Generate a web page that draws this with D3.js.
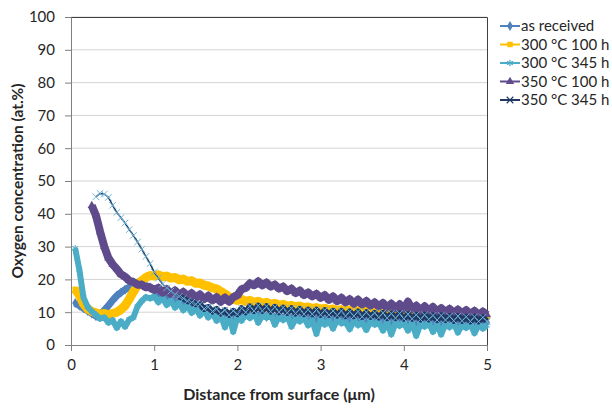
<!DOCTYPE html>
<html>
<head>
<meta charset="utf-8">
<script src="https://cdn.jsdelivr.net/npm/d3@7"></script>
<style>
  body { margin: 0; background: #fff; }
  text { font-family: Lato, "Open Sans", sans-serif; fill: #262626; }
</style>
</head>
<body>
<div id="chart"></div>
<script>
// *********************************************
// DATA
// *********************************************

// distance from surface, um
var distance = [
  0.05, 0.10, 0.15, 0.20, 0.25, 0.30, 0.35, 0.40, 0.45, 0.50,
  0.55, 0.60, 0.65, 0.70, 0.75, 0.80, 0.85, 0.90, 0.95, 1.00,
  1.05, 1.10, 1.15, 1.20, 1.25, 1.30, 1.35, 1.40, 1.45, 1.50,
  1.55, 1.60, 1.65, 1.70, 1.75, 1.80, 1.85, 1.90, 1.95, 2.00,
  2.05, 2.10, 2.15, 2.20, 2.25, 2.30, 2.35, 2.40, 2.45, 2.50,
  2.55, 2.60, 2.65, 2.70, 2.75, 2.80, 2.85, 2.90, 2.95, 3.00,
  3.05, 3.10, 3.15, 3.20, 3.25, 3.30, 3.35, 3.40, 3.45, 3.50,
  3.55, 3.60, 3.65, 3.70, 3.75, 3.80, 3.85, 3.90, 3.95, 4.00,
  4.05, 4.10, 4.15, 4.20, 4.25, 4.30, 4.35, 4.40, 4.45, 4.50,
  4.55, 4.60, 4.65, 4.70, 4.75, 4.80, 4.85, 4.90, 4.95, 5.00
];

// oxygen concentration, at.%
var asReceived = [
  12.8, 12.0, 11.2, 10.4, 9.6, 8.8, 9.4, 10.6, 12.0, 13.6,
  15.0, 16.0, 16.9, 17.6, 18.4, 18.9, 18.6, 18.2, 17.4, 16.8,
  15.9, 15.4, 14.6, 14.1, 13.4, 13.0, 12.2, 12.0, 11.3, 11.1,
  10.6, 10.4, 9.8, 9.7, 9.1, 9.2, 8.6, 8.4, 8.0, 8.3,
  8.6, 9.1, 8.8, 9.3, 8.9, 9.2, 8.6, 8.9, 8.4, 8.8,
  8.3, 8.6, 8.1, 8.5, 8.0, 8.4, 7.9, 8.3, 7.8, 8.2,
  7.7, 8.1, 7.6, 8.0, 7.5, 7.9, 7.4, 7.8, 7.3, 7.8,
  7.2, 7.7, 7.3, 7.6, 7.1, 7.6, 7.0, 7.5, 7.1, 7.4,
  6.9, 7.4, 7.0, 7.3, 6.8, 7.3, 6.9, 7.2, 6.8, 7.2,
  6.7, 7.1, 6.8, 7.1, 6.6, 7.0, 6.7, 7.0, 6.6, 6.9
];

var t300h100 = [
  17.0, 15.2, 12.6, 11.0, 10.2, 9.8, 9.4, 9.6, 9.2, 9.6,
  10.0, 10.8, 12.0, 14.0, 16.2, 18.2, 19.6, 20.6, 21.2, 21.0,
  21.4, 20.8, 21.0, 20.4, 20.6, 19.9, 20.1, 19.4, 19.6, 18.8,
  18.9, 18.2, 18.0, 17.4, 17.1, 16.3, 15.6, 14.6, 14.0, 13.6,
  13.9, 13.3, 13.6, 13.0, 13.3, 12.7, 13.0, 12.4, 12.7, 12.1,
  12.4, 11.8, 12.1, 11.6, 11.9, 11.3, 11.6, 11.1, 11.4, 10.9,
  11.2, 10.7, 11.0, 10.5, 10.8, 10.3, 10.7, 10.2, 10.5, 10.0,
  10.3, 9.8, 10.1, 9.7, 10.0, 9.5, 9.8, 9.4, 9.7, 9.3,
  9.6, 9.2, 9.5, 9.1, 9.4, 9.0, 9.3, 8.9, 9.2, 8.8,
  9.1, 8.7, 9.0, 8.6, 8.9, 8.5, 8.8, 8.5, 8.7, 8.4
];

var t300h345 = [
  29.5, 23.0, 14.5, 11.6, 10.2, 9.2, 8.0, 8.4, 6.8, 7.6,
  5.2, 7.2, 5.6, 7.8, 8.4, 11.8, 13.4, 14.6, 14.2, 14.8,
  13.0, 14.4, 12.2, 13.6, 11.4, 12.8, 10.6, 12.0, 9.8, 11.2,
  9.0, 10.6, 8.4, 9.8, 7.4, 9.2, 5.4, 9.0, 4.0, 8.6,
  7.4, 9.4, 8.2, 9.8, 6.8, 9.0, 8.4, 9.4, 6.2, 8.6,
  7.6, 8.8, 5.6, 8.0, 7.2, 8.4, 6.0, 7.6, 3.4, 7.8,
  6.2, 7.4, 5.0, 7.8, 6.6, 7.0, 4.8, 7.4, 6.0, 6.8,
  4.6, 7.2, 6.2, 6.8, 4.4, 7.0, 3.2, 6.6, 5.8, 6.8,
  4.4, 6.6, 2.8, 6.4, 5.6, 6.8, 4.0, 6.2, 3.2, 6.4,
  5.4, 6.6, 3.8, 6.0, 5.2, 6.4, 3.6, 6.2, 5.0, 6.0
];

var t350h100 = [
  null, null, null, null, 42.5, 39.5, 34.5, 30.0, 26.5, 24.6,
  23.2, 21.6, 20.8, 19.6, 19.2, 18.4, 18.4, 17.6, 17.6, 16.8,
  17.4, 16.0, 17.0, 15.6, 16.6, 15.2, 16.2, 14.8, 15.8, 14.4,
  15.4, 14.0, 15.0, 13.6, 14.6, 13.2, 14.4, 13.2, 14.6, 15.2,
  17.0, 17.4, 18.8, 18.2, 19.4, 18.2, 19.0, 17.8, 18.4, 17.2,
  17.8, 16.4, 17.2, 15.8, 16.6, 15.2, 16.0, 14.8, 15.6, 14.4,
  15.2, 13.8, 14.8, 13.4, 14.4, 13.0, 14.0, 12.6, 13.8, 12.4,
  13.4, 12.0, 13.0, 11.8, 12.8, 11.4, 12.6, 11.2, 12.4, 11.0,
  13.2, 10.8, 12.0, 10.6, 11.8, 10.4, 11.6, 10.2, 11.2, 10.0,
  11.0, 9.8, 10.8, 9.6, 10.6, 9.4, 10.4, 9.2, 10.2, 9.2
];

var t350h345 = [
  null, null, null, null, null, 45.2, 46.2, 46.0, 45.0, 42.6,
  40.4, 38.8, 37.2, 35.2, 33.4, 31.4, 29.2, 27.0, 24.8, 22.2,
  20.4, 18.6, 17.4, 16.4, 15.4, 14.8, 14.2, 13.4, 13.0, 12.4,
  12.4, 11.0, 11.6, 10.2, 11.0, 9.6, 10.6, 9.2, 10.4, 9.4,
  11.2, 10.0, 11.8, 10.4, 12.0, 10.4, 11.8, 10.2, 11.6, 10.0,
  11.4, 9.8, 11.2, 9.6, 11.0, 9.4, 10.8, 9.4, 10.8, 9.2,
  10.6, 9.2, 10.4, 9.0, 10.4, 8.8, 10.2, 8.8, 10.2, 8.6,
  10.0, 8.6, 9.8, 8.4, 9.8, 8.2, 9.6, 8.2, 9.6, 8.0,
  9.4, 8.0, 9.2, 7.8, 9.2, 7.8, 9.0, 7.6, 9.0, 7.6,
  8.8, 7.4, 8.8, 7.4, 8.6, 7.2, 8.6, 7.2, 8.4, 7.2
];

var seriesNames = ["as received", "300 \u00b0C 100 h", "300 \u00b0C 345 h", "350 \u00b0C 100 h", "350 \u00b0C 345 h"];
var seriesValues = [asReceived, t300h100, t300h345, t350h100, t350h345];
var xTicks = [0, 1, 2, 3, 4, 5];
var yTicks = [0, 10, 20, 30, 40, 50, 60, 70, 80, 90, 100];

// *********************************************
// SETUP
// *********************************************
var width = 612, height = 410;
var plotBox = {left: 71, right: 487, top: 17, bottom: 345};

var colors = ["#4f81bd", "#ffc000", "#4bacc6", "#5f4b8b", "#1f3864"];
var lineWidth = [7, 9, 6, 8, 1.5];
var symbols = [d3.symbolDiamond, d3.symbolSquare, d3.symbolAsterisk, d3.symbolTriangle, d3.symbolTimes || d3.symbolX];
var strokeSymbol = [false, false, true, false, true];

var svg = d3.select("#chart").append("svg")
    .attr("width", width)
    .attr("height", height);

var x = d3.scaleLinear().domain([0, 5]).range([plotBox.left, plotBox.right]);
var y = d3.scaleLinear().domain([0, 100]).range([plotBox.bottom, plotBox.top]);

// gridlines
svg.append("g").selectAll("line")
  .data(yTicks.slice(1))
  .enter().append("line")
    .attr("x1", plotBox.left).attr("x2", plotBox.right)
    .attr("y1", d => y(d)).attr("y2", d => y(d))
    .style("stroke", "#d4d4d4")
    .style("stroke-width", 1);

// plot area border (top / right)
svg.append("path")
  .attr("d", "M" + plotBox.left + "," + (plotBox.top + 0.5) + "H" + (plotBox.right + 0.5) + "V" + plotBox.bottom)
  .style("fill", "none")
  .style("stroke", "#404040");

// *********************************************
// SERIES
// *********************************************
var line = d3.line()
  .defined(d => d[1] != null)
  .x(d => x(d[0]))
  .y(d => y(d[1]));

var plot = svg.append("g").attr("id", "series");

seriesValues.forEach(function(vals, i) {
  var pts = distance.map((d, j) => [d, vals[j]]);
  var g = plot.append("g");

  g.append("path")
    .datum(pts)
    .attr("d", line)
    .style("fill", "none")
    .style("stroke", colors[i])
    .style("stroke-width", lineWidth[i])
    .style("stroke-linejoin", "round");

  // noisy tail of the last profile shows as a thick band
  if (i == 4) {
    g.append("path")
      .datum(pts.filter(p => p[0] >= 1.3))
      .attr("d", line)
      .style("fill", "none")
      .style("stroke", colors[i])
      .style("stroke-width", 6)
      .style("stroke-linejoin", "round");
  }

  var sym = d3.symbol().type(symbols[i]).size(30);
  g.selectAll("path.mk")
    .data(pts.filter(p => p[1] != null))
    .enter().append("path")
      .attr("class", "mk")
      .attr("d", sym)
      .attr("transform", p => "translate(" + x(p[0]) + "," + y(p[1]) + ")")
      .style("fill", strokeSymbol[i] ? "none" : colors[i])
      .style("stroke", strokeSymbol[i] ? (i == 4 ? "#6fb7d8" : colors[i]) : "none")
      .style("stroke-width", 1);
});

// *********************************************
// AXES
// *********************************************
var xAxis = svg.append("g")
  .attr("transform", "translate(0," + plotBox.bottom + ")")
  .call(d3.axisBottom(x).tickValues(xTicks).tickSize(6).tickPadding(8).tickFormat(d3.format("d")));

var yAxis = svg.append("g")
  .attr("transform", "translate(" + plotBox.left + ",0)")
  .call(d3.axisLeft(y).tickValues(yTicks).tickSize(6).tickPadding(10).tickFormat(d3.format("d")));

[xAxis, yAxis].forEach(function(a) {
  a.select(".domain").style("stroke", "#7f7f7f");
  a.selectAll(".tick line").style("stroke", "#7f7f7f");
  a.selectAll(".tick text")
    .style("font-family", "Lato, sans-serif")
    .style("font-size", "15px")
    .style("fill", "#262626");
});

svg.append("text")
  .attr("x", (plotBox.left + plotBox.right) / 2)
  .attr("y", 400)
  .attr("text-anchor", "middle")
  .style("font-size", "16px")
  .style("font-weight", "bold")
  .text("Distance from surface (\u03bcm)");

svg.append("text")
  .attr("transform", "translate(23," + ((plotBox.top + plotBox.bottom) / 2) + ") rotate(-90)")
  .attr("text-anchor", "middle")
  .style("font-size", "15.5px")
  .style("font-weight", "bold")
  .text("Oxygen concentration (at.%)");

// *********************************************
// LEGEND
// *********************************************
var legend = svg.append("g").attr("transform", "translate(500,26)");

seriesNames.forEach(function(name, i) {
  var row = legend.append("g").attr("transform", "translate(0," + (i * 18.5) + ")");
  row.append("line")
    .attr("x1", 0).attr("x2", 20)
    .style("stroke", colors[i])
    .style("stroke-width", 2);
  row.append("path")
    .attr("d", d3.symbol().type(symbols[i]).size(30))
    .attr("transform", "translate(10,0)")
    .style("fill", strokeSymbol[i] ? "none" : colors[i])
    .style("stroke", strokeSymbol[i] ? colors[i] : "none")
    .style("stroke-width", 1.2);
  row.append("text")
    .attr("x", 21)
    .attr("dy", "0.35em")
    .style("font-size", "15px")
    .text(name);
});
</script>
</body>
</html>
